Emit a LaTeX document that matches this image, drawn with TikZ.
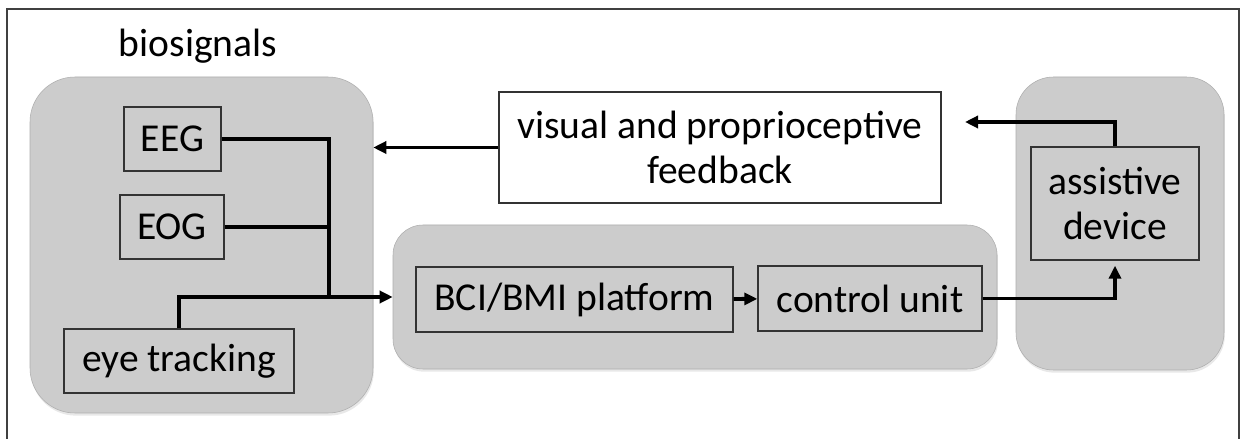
\documentclass[tikz,border=0pt]{standalone}
\usepackage{fontspec}
\setmainfont{Carlito}
\usetikzlibrary{arrows.meta, positioning, shadows}
\definecolor{groupGrey}{HTML}{CCCCCC}
\definecolor{boxEdge}{HTML}{333333}
\definecolor{frameGrey}{HTML}{404040}

\begin{document}
\begin{tikzpicture}[every node/.style={font=\fontsize{22.5}{25.5}\selectfont},
    group/.style={fill=groupGrey, draw=groupGrey!85!black, line width=0.3pt,
      drop shadow={opacity=0.18, shadow xshift=0.5pt, shadow yshift=-1.5pt}},
    block/.style={draw=boxEdge, line width=0.8pt, fill=groupGrey, align=center, inner sep=0pt},
    link/.style={line width=2.2pt},
    flow/.style={line width=2.2pt, -{Triangle[length=0.26cm, width=0.24cm]}}]
        \useasboundingbox (0,0) rectangle (24.96,-8.78);
        \fill[white] (0,0) rectangle (24.96,-8.78);
        \draw[frameGrey, line width=1.2pt] (0.14,-0.18) rectangle (24.78,-9.4);
        % grey groups
        \node[group, rounded corners=0.9cm, minimum width=6.86cm, minimum height=6.72cm] (biogroup) at (4.03,-4.9) {};
        \node[group, rounded corners=0.6cm, minimum width=12.08cm, minimum height=2.88cm] (procgroup) at (13.9,-5.94) {};
        \node[group, rounded corners=0.75cm, minimum width=4.16cm, minimum height=5.86cm] (devgroup) at (22.4,-4.47) {};
        \node (biolabel) at (3.96,-0.92) {biosignals};
        % blocks
        \node[block, minimum width=1.94cm, minimum height=1.28cm] (eeg) at (3.45,-2.78) {EEG};
        \node[block, minimum width=2.08cm, minimum height=1.28cm] (eog) at (3.44,-4.54) {EOG};
        \node[block, minimum width=4.6cm, minimum height=1.28cm] (eyetrack) at (3.58,-7.22) {eye tracking};
        \node[block, minimum width=6.34cm, minimum height=1.3cm] (bci) at (11.49,-5.99) {BCI/BMI platform};
        \node[block, minimum width=4.48cm, minimum height=1.3cm] (ctrl) at (17.4,-5.97) {control unit};
        \node[block, minimum width=3.36cm, minimum height=2.26cm] (assist) at (22.3,-4.07) {assistive\\device};
        \node[block, fill=white, minimum width=8.84cm, minimum height=2.22cm] (feedback) at (14.4,-2.95) {visual and proprioceptive\\feedback};
        % connectors
        \coordinate (bus) at (6.58,-5.94);
        \coordinate (fbtip) at (19.3,-2.44);
        \draw[link] (eeg.east) -| (bus);
        \draw[link] (eog.east) -- (eog.east -| bus);
        \draw[flow] (eyetrack.north) |- (procgroup.west);
        \draw[flow] (bci) -- (ctrl);
        \draw[flow, shorten >=0.1cm] (ctrl.east) -| (assist.south);
        \draw[flow] (assist.north) |- (fbtip);
        \draw[flow] (feedback.west) -- (feedback.west -| biogroup.east);
      \end{tikzpicture}
\end{document}
